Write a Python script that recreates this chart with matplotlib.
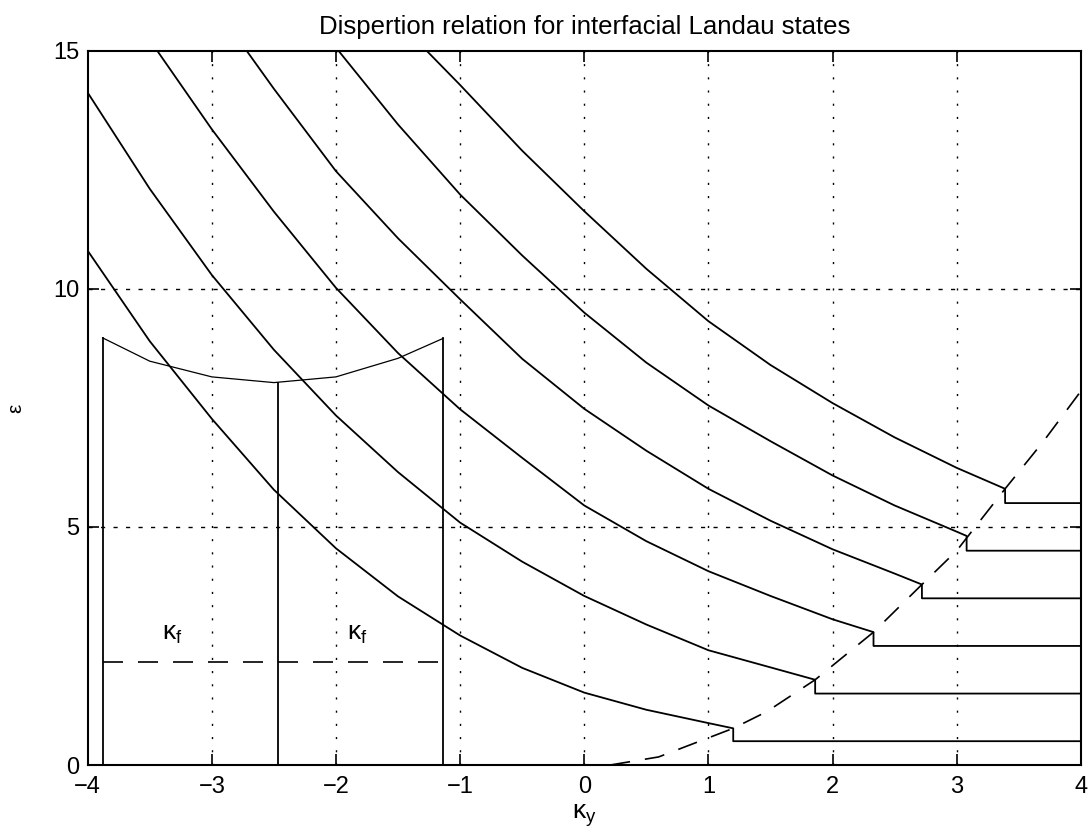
import matplotlib
matplotlib.use('Agg')
import matplotlib.pyplot as plt

plt.rcParams['font.family'] = ['Liberation Sans', 'DejaVu Sans']
plt.rcParams['mathtext.fontset'] = 'custom'
plt.rcParams['mathtext.rm'] = 'Liberation Sans'
plt.rcParams['mathtext.it'] = 'Liberation Sans'

# dispersion branches (kappa_y, energy); each ends with the step to its level
k1 = [-4.0, -3.5, -3.0, -2.5, -2.0, -1.5, -1.0, -0.5, 0.0, 0.5, 1.0, 1.2, 1.2, 4.0]
e1 = [10.8, 8.9, 7.27, 5.78, 4.55, 3.54, 2.72, 2.04, 1.52, 1.16, 0.88, 0.77, 0.5, 0.5]
k2 = [-4.0, -3.5, -3.0, -2.5, -2.0, -1.5, -1.0, -0.5, 0.0, 0.5, 1.0, 1.5, 1.86, 1.86, 4.0]
e2 = [14.12, 12.1, 10.29, 8.72, 7.34, 6.15, 5.09, 4.27, 3.55, 2.95, 2.41, 2.05, 1.79, 1.5, 1.5]
k3 = [-3.44, -3.0, -2.5, -2.0, -1.5, -1.0, -0.5, 0.0, 0.5, 1.0, 1.5, 2.0, 2.33, 2.33, 4.0]
e3 = [15.0, 13.35, 11.62, 10.02, 8.65, 7.47, 6.45, 5.45, 4.7, 4.07, 3.55, 3.06, 2.79, 2.5, 2.5]
k4 = [-2.72, -2.5, -2.0, -1.5, -1.0, -0.5, 0.0, 0.5, 1.0, 1.5, 2.0, 2.5, 2.72, 2.72, 4.0]
e4 = [15.0, 14.2, 12.47, 11.06, 9.78, 8.53, 7.48, 6.6, 5.8, 5.13, 4.53, 4.02, 3.79, 3.5, 3.5]
k5 = [-1.98, -1.5, -1.0, -0.5, 0.0, 0.5, 1.0, 1.5, 2.0, 2.5, 3.0, 3.08, 3.08, 4.0]
e5 = [15.0, 13.45, 11.98, 10.7, 9.5, 8.45, 7.55, 6.8, 6.08, 5.45, 4.9, 4.81, 4.5, 4.5]
k6 = [-1.27, -1.0, -0.5, 0.0, 0.5, 1.0, 1.5, 2.0, 2.5, 3.0, 3.39, 3.39, 4.0]
e6 = [15.0, 14.28, 12.9, 11.63, 10.42, 9.32, 8.4, 7.6, 6.88, 6.24, 5.8, 5.5, 5.5]

# dashed edge curve
kd = [0.21, 0.6, 0.98, 1.2, 1.47, 1.86, 2.33, 2.72, 3.0, 3.39, 3.7, 4.0]
ed = [0.0, 0.17, 0.55, 0.77, 1.12, 1.79, 2.79, 3.79, 4.5, 5.8, 6.8, 7.85]

# Fermi surface sketch on the left
ka = [-3.88, -3.5, -3.0, -2.5, -2.0, -1.5, -1.135]
ea = [8.97, 8.48, 8.15, 8.03, 8.15, 8.54, 8.96]
kv = [-3.88, -2.47, -1.135]
ev = [8.97, 8.03, 8.96]
e_fermi = 2.16
kf_labels = [-3.32, -1.83]

fig = plt.figure(figsize=(10.89, 8.39), dpi=100)
ax = fig.add_axes([0.0805, 0.0882, 0.912, 0.8514])

for k, e in [(k1, e1), (k2, e2), (k3, e3), (k4, e4), (k5, e5), (k6, e6)]:
    ax.plot(k, e, color='k', lw=1.3)

ax.plot(kd, ed, color='k', lw=1.2, dashes=(12, 9))
ax.plot(ka, ea, color='k', lw=0.9)
for k, e in zip(kv, ev):
    ax.plot([k, k], [0, e], color='k', lw=1.3)
ax.plot([kv[0], kv[-1]], [e_fermi, e_fermi], color='k', lw=1.2, dashes=(12, 9))
for k in kf_labels:
    ax.text(k, 2.75, r'$\kappa_f$', fontsize=19, ha='center', va='center')

ax.set_xlim(-4, 4)
ax.set_ylim(0, 15)
ax.set_xticks(range(-4, 5))
ax.set_yticks([0, 5, 10, 15])
ax.set_xticklabels(['\u22124', '\u22123', '\u22122', '\u22121', '0', '1', '2', '3', '4'])
ax.tick_params(direction='in', top=True, right=True, length=8, width=1.2, labelsize=17)
ax.tick_params(axis='x', pad=8)
ax.tick_params(axis='y', pad=6)
for s in ax.spines.values():
    s.set_linewidth(1.5)

for k in range(-3, 4):
    ax.axvline(k, color='k', lw=1.0, dashes=(1.5, 8))
for e in [5, 10]:
    ax.axhline(e, color='k', lw=1.0, dashes=(3, 6))

ax.set_title('Dispertion relation for interfacial Landau states', fontsize=18.5, pad=12)
ax.set_xlabel(r'$\kappa_y$', fontsize=19, labelpad=3)
ax.set_ylabel('\u03b5', fontsize=15, labelpad=20)

fig.savefig('out.png', dpi=100)
